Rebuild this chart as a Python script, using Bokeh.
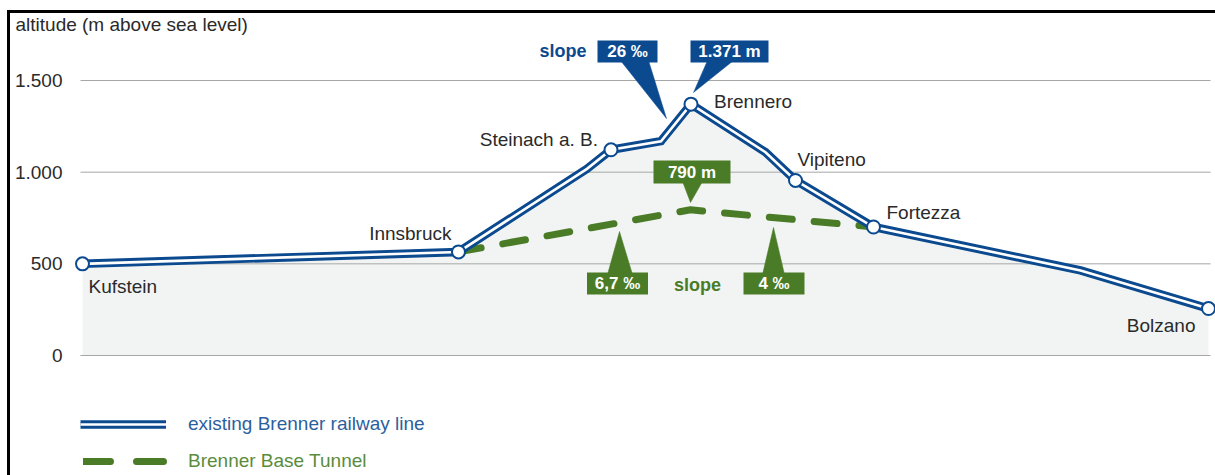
from bokeh.plotting import figure
from bokeh.models import (LinearAxis, FixedTicker, Legend, LegendItem,
                          ColumnDataSource, Range1d)
from bokeh.core.properties import value
from bokeh.embed import file_html
from bokeh.resources import INLINE

# ---------------- data ----------------
stations = ["Kufstein", "Innsbruck", "Steinach a. B.", "Brennero",
            "Vipiteno", "Fortezza", "Bolzano"]
station_dist = [0.0, 75.2, 105.7, 121.7, 142.6, 158.2, 225.2]
station_alt = [500, 565, 1122, 1371, 955, 701, 256]

line_dist = [0.0, 75.2, 100.9, 105.7, 115.7, 121.7, 136.6, 142.6, 158.2, 199.6, 225.2]
line_alt = [500, 565, 1018, 1122, 1169, 1371, 1109, 955, 701, 464, 256]

tunnel_dist = [75.2, 121.6, 158.2]
tunnel_alt = [565, 795, 701]

y_ticks = [0, 500, 1000, 1500]
y_tick_labels = ["0", "500", "1.000", "1.500"]

callout_labels = ["26 ‰", "1.371 m", "790 m", "6,7 ‰", "4 ‰"]
slope_word = "slope"
legend_labels = ["existing Brenner railway line", "Brenner Base Tunnel"]
axis_title = "altitude (m above sea level)"

# ---------------- styles / layout ----------------
BLUE = "#0c4a8f"
BLUE_TXT = "#2c5f9e"
GREEN = "#4a7b26"
GREEN_TXT = "#5a8c3c"
GRID = "#a6a6a6"
FILL = "#f2f4f4"
TXT = "#2a2a2a"
FONT = "Liberation Sans"

W, H = 1215, 475


def rx(px):  # page px -> distance units
    return (px - 82) * 0.2


def ry(py):  # page py -> altitude
    return (355 - py) * 5.455


p = figure(width=W, height=H, x_range=Range1d(rx(0), rx(W)),
           y_range=Range1d(ry(H), ry(0)),
           x_axis_type=None, y_axis_type=None, toolbar_location=None,
           output_backend="svg", min_border=0, outline_line_color=None,
           background_fill_color="white", border_fill_color="white")

# area under profile
p.varea(x=line_dist, y1=[0] * len(line_dist), y2=line_alt, fill_color=FILL)

# grid lines
p.segment(x0=[line_dist[0] - 0.4] * len(y_ticks), x1=[line_dist[-1] + 0.4] * len(y_ticks),
          y0=y_ticks, y1=y_ticks, line_color=GRID, line_width=1)

# y axis (drawn inside the frame)
yaxis = LinearAxis(fixed_location=rx(62), ticker=FixedTicker(ticks=y_ticks),
                   major_label_overrides={t: l for t, l in zip(y_ticks, y_tick_labels)},
                   axis_line_color=None, major_tick_line_color=None,
                   minor_tick_line_color=None, major_tick_out=0, major_tick_in=0,
                   major_label_standoff=0, major_label_text_font=FONT,
                   major_label_text_font_size="19px", major_label_text_color=TXT)
p.add_layout(yaxis, "left")

# tunnel
p.line(tunnel_dist, tunnel_alt, line_color=GREEN, line_width=7,
       line_dash="23 22", line_cap="round")

# railway double line
rail_b = p.line(line_dist, line_alt, line_color=BLUE, line_width=8.5, line_join="miter")
rail_w = p.line(line_dist, line_alt, line_color="white", line_width=2.6, line_join="miter")
p.scatter(station_dist, station_alt, size=13, fill_color="white",
          line_color=BLUE, line_width=2)

# station labels
lab_dx = [6, -7, -13, 23, 2, 13, -13]
lab_dy = [23, -18.5, -10, -2.5, -20.5, -14.5, 17]
lab_align = ["left", "right", "right", "left", "left", "left", "right"]
src = ColumnDataSource(dict(x=station_dist, y=station_alt, t=stations,
                            dx=lab_dx, dy=lab_dy, al=lab_align))
p.text(x="x", y="y", text="t", x_offset="dx", y_offset="dy", text_align="al",
       text_baseline="middle", text_font=value(FONT), text_font_size="19px",
       text_color=TXT, source=src)

# axis title
p.text(x=[rx(15)], y=[ry(24)], text=[axis_title], text_align="left",
       text_baseline="middle", text_font=value(FONT), text_font_size="19px",
       text_color=TXT)

# callouts: (cx, cy, w, h, base-left, base-right, base_y, tip, colour)
boxes = [
    (627, 51, 60, 22, 620, 648, 60, (666, 118), BLUE),
    (729, 51, 78, 22, 707, 733, 60, (693, 92), BLUE),
    (691.5, 171.5, 77, 23, 682, 702, 181, (690, 202), GREEN),
    (617, 283, 61, 22, 607, 632, 274, (619, 231), GREEN),
    (773.5, 283, 61, 22, 762, 784, 274, (773, 227), GREEN),
]
for lab, (cx, cy, w, h, bl, br, by, tip, col) in zip(callout_labels, boxes):
    p.patch(x=[rx(bl), rx(br), rx(tip[0])], y=[ry(by), ry(by), ry(tip[1])],
            fill_color=col, line_color=col, line_width=0.5)
    p.rect(x=[rx(cx)], y=[ry(cy)], width=w, height=h, width_units="screen",
           height_units="screen", fill_color=col, line_color=None)
    p.text(x=[rx(cx)], y=[ry(cy)], text=[lab], text_align="center",
           text_baseline="middle", text_font=value(FONT), text_font_size="17px",
           text_font_style="bold", text_color="white")

p.text(x=[rx(562.5)], y=[ry(50)], text=[slope_word], text_align="center",
       text_baseline="middle", text_font=value(FONT), text_font_size="18px",
       text_font_style="bold", text_color=BLUE)
p.text(x=[rx(697)], y=[ry(284)], text=[slope_word], text_align="center",
       text_baseline="middle", text_font=value(FONT), text_font_size="18px",
       text_font_style="bold", text_color=GREEN)

# picture border (top and left edges only)
p.segment(x0=[rx(6.5), rx(8)], y0=[ry(11), ry(9.5)],
          x1=[rx(W), rx(8)], y1=[ry(11), ry(H)],
          line_color="black", line_width=3)

# legends
nan = float("nan")
leg_dash = p.line(x=[nan, nan], y=[nan, nan], line_color=GREEN, line_width=7,
                  line_dash="27 26", line_cap="round")
common = dict(orientation="vertical", glyph_height=20, label_height=20,
              padding=0, margin=0, spacing=0, border_line_color=None,
              background_fill_alpha=0, label_text_font=FONT,
              label_text_font_size="19px", glyph_width=86)
leg1 = Legend(items=[LegendItem(label=legend_labels[0], renderers=[rail_b, rail_w])],
              location=(80, 40), label_standoff=22, label_text_color=BLUE_TXT, **common)
leg2 = Legend(items=[LegendItem(label=legend_labels[1], renderers=[leg_dash])],
              location=(83, 3), label_standoff=19, label_text_color=GREEN_TXT, **common)
p.add_layout(leg1)
p.add_layout(leg2)

open("out.html", "w").write(file_html(p, INLINE))
